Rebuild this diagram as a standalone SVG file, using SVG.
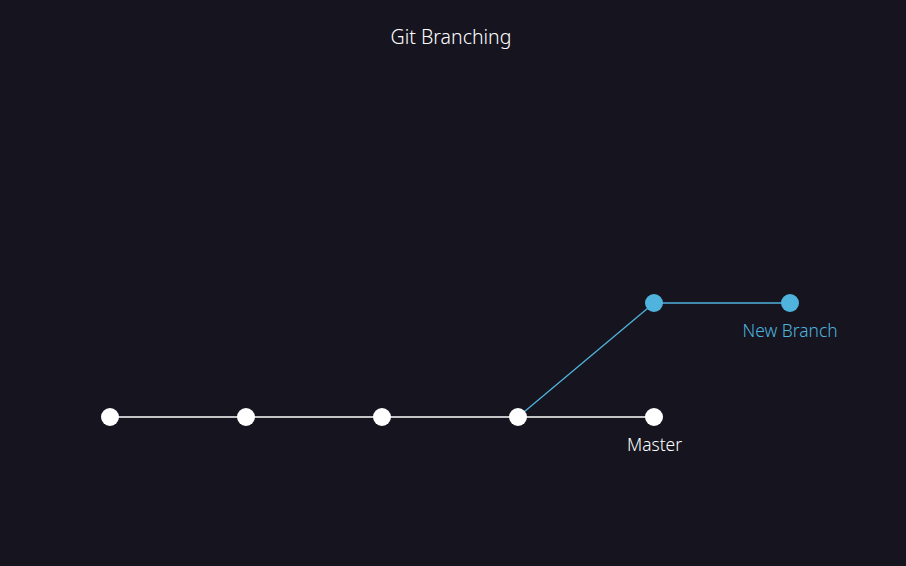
<svg xmlns="http://www.w3.org/2000/svg" width="906" height="566" viewBox="0 0 906 566">
<style>
text{font-family:"Noto Sans","Open Sans",sans-serif;text-anchor:middle;font-weight:300}
.w{fill:#ffffff}
.b{fill:#4fb3de}
.lw{stroke:#ffffff;stroke-width:1.3;fill:none}
.lb{stroke:#4fb3de;stroke-width:1.3;fill:none}
</style>
<rect width="906" height="566" fill="#16151f"/>
<text x="451" y="44" font-size="19.5" fill="#ffffff">Git Branching</text>
<g id="connectors">
<line class="lw" x1="110" y1="417" x2="654" y2="417"/>
<line class="lb" x1="518" y1="417" x2="654" y2="303"/>
<line class="lb" x1="654" y1="303" x2="790" y2="303"/>
</g>
<g id="c1"><circle class="w" cx="110" cy="417" r="9"/></g>
<g id="c2"><circle class="w" cx="246" cy="417" r="9"/></g>
<g id="c3"><circle class="w" cx="382" cy="417" r="9"/></g>
<g id="c4"><circle class="w" cx="518" cy="417" r="9"/></g>
<g id="master"><circle class="w" cx="654" cy="417" r="9"/><text class="w" x="654.5" y="451" font-size="17.4">Master</text></g>
<g id="b1"><circle class="b" cx="654" cy="303" r="9"/></g>
<g id="newbranch"><circle class="b" cx="790" cy="303" r="9"/><text class="b" x="790" y="337" font-size="17.4">New Branch</text></g>
</svg>
